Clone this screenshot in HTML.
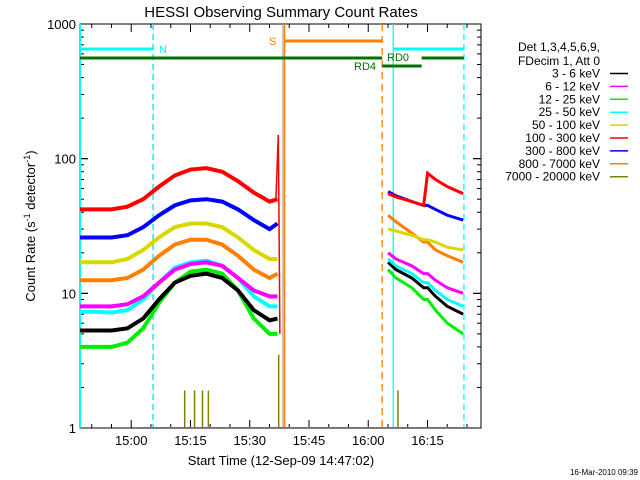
<!DOCTYPE html>
<html><head><meta charset="utf-8"><style>
body{margin:0;background:#fff;}
svg{display:block;font-family:"Liberation Sans",sans-serif;}
</style></head><body>
<svg id="chart" width="640" height="480" viewBox="0 0 640 480" xmlns="http://www.w3.org/2000/svg">
<text x="281" y="17" font-size="15" text-anchor="middle">HESSI Observing Summary Count Rates</text>
<text transform="translate(35,226) rotate(-90)" font-size="13" text-anchor="middle">Count Rate (s<tspan font-size="9" dy="-5">-1</tspan><tspan dy="5"> detector</tspan><tspan font-size="9" dy="-5">-1</tspan><tspan dy="5">)</tspan></text>
<text x="281" y="465" font-size="13" text-anchor="middle">Start Time (12-Sep-09 14:47:02)</text>
<text x="638" y="475" font-size="8" text-anchor="end">16-Mar-2010 09:39</text>
<g id="plot"></g>
<g id="legend"></g>
</svg>
<script>
const NS="http://www.w3.org/2000/svg";
const segTimes1=[0,4,8,12,16,20,24,28,32,36,40,44,48,50];
const segTimes2=[78,80,84,87,88,90,93,97];
const bandNames=["3 - 6 keV","6 - 12 keV","12 - 25 keV","25 - 50 keV","50 - 100 keV","100 - 300 keV","300 - 800 keV","800 - 7000 keV","7000 - 20000 keV"];
const bandColors=["#000000","#ff00ff","#00ee00","#00ffff","#d8d800","#ff0000","#0000ff","#ff8000","#808000"];
const black1=[5.3,5.3,5.3,5.5,6.5,9,12,13.5,14,13,10.5,7.5,6.3,6.5];
const magenta1=[8,8,8,8.3,9.5,12,15,16.5,17,16,13,10.5,9.5,9.5];
const green1=[4,4,4,4.3,5.5,8.5,12,14.5,15,14,10.5,6.5,5,5];
const cyan1=[7.3,7.3,7.2,7.5,9,12,15.5,17,17.5,16,13,9.5,8,8];
const yellow1=[17,17,17,18,21,26,31,33,33,31,26,21,18,18];
const red1=[42,42,42,44,50,62,75,83,85,80,68,56,48,50];
const blue1=[26,26,26,27,31,38,45,49,50,48,42,35,30,33];
const orange1=[12.5,12.5,12.5,13,15,19,23,25,25,23,19,15,13,14];
const black2=[17,15,13,11,11,9.5,8,7];
const magenta2=[20,18,16,14,14,12.5,11,10];
const green2=[15,13,11,9,9,7.5,6,5];
const cyan2=[18,16,14,12,12,10.5,9,8];
const yellow2=[30,29,27,25,25,24,22,21];
const red2=[55,52,48,45,78,70,62,55];
const blue2=[57,53,48,45,45,42,38,35];
const orange2=[38,34,28,24,24,21,19,17];
const spikeTimes=[26.5,29,31,32.5,50.3,80.5];
const spikeValues=[1.9,1.9,1.9,1.9,3.5,1.9];
const xTickLabels=["15:00","15:15","15:30","15:45","16:00","16:15"];
const xTickMinutes=[12.97,27.97,42.97,57.97,72.97,87.97];
const yTickValues=[1,10,100,1000];

const X0=80,X1=481,Y0=428,YT=24,PXM=3.95;
const xs=t=>X0+t*PXM;
const ys=v=>Y0-Math.log10(v)*(Y0-YT)/3;
const plot=document.getElementById('plot');
function el(tag,attrs,parent){const e=document.createElementNS(NS,tag);for(const k in attrs)e.setAttribute(k,attrs[k]);(parent||plot).appendChild(e);return e;}

// axes box
const box=el('rect',{x:X0,y:YT,width:X1-X0,height:Y0-YT,fill:'none',stroke:'#000','stroke-width':1});


// y ticks
for(let d=0;d<3;d++){for(let m=1;m<=10;m++){const v=m*Math.pow(10,d);const y=ys(v);const L=(m===1||m===10)?8:4;
el('line',{x1:X0,x2:X0+L,y1:y,y2:y,stroke:'#000'});el('line',{x1:X1,x2:X1-L,y1:y,y2:y,stroke:'#000'});}}
yTickValues.forEach(v=>{const t=el('text',{x:X0-4,y:ys(v)+5,'font-size':13,'text-anchor':'end'});t.textContent=String(v);

});
// x ticks
for(let m=-15;m<=110;m+=5){const t=xTickMinutes[0]+m;if(t<0||t>101.6)continue;const x=xs(t);const L=((m%15)===0)?8:4;
el('line',{x1:x,x2:x,y1:Y0,y2:Y0-L,stroke:'#000'});el('line',{x1:x,x2:x,y1:YT,y2:YT+L,stroke:'#000'});}
xTickLabels.forEach((s,i)=>{const t=el('text',{x:xs(xTickMinutes[i]),y:Y0+17,'font-size':13,'text-anchor':'middle'});t.textContent=s;

});

// vertical markers
function vline(t,color,dash,name){const l=el('line',{x1:xs(t),x2:xs(t),y1:YT,y2:Y0,stroke:color,'stroke-width':1.3,'stroke-dasharray':dash||'none'});

}
vline(0.1,'#00ffff','', 'night-end-line');
vline(18.5,'#00e0ff','6,4','night-start-dashed');
vline(51.4,'#a0a0a0','','gap-line');
vline(51.6+0.2,'#ff8000','','saa-start-line');
vline(76.5,'#ff8000','7,5','saa-end-dashed');
vline(79.3,'#00ffff','','night-end-line-2');
vline(97.2,'#00ffff','6,4','night-start-dashed-2');

// flag bars
function hbar(t1,t2,y,color,name){const r=el('line',{x1:xs(t1),x2:xs(t2),y1:y,y2:y,stroke:color,'stroke-width':3});

}
hbar(0,18.5,49,'#00ffff','night-flag-bar');
hbar(79.3,97.2,49,'#00ffff','night-flag-bar-2');
hbar(51.8,76.5,41,'#ff8000','saa-flag-bar');
hbar(0,76.5,58,'#007000','rd0-flag-bar');
hbar(86.5,97.2,58,'#007000','rd0-flag-bar-2');
hbar(76.5,86.5,66,'#007000','rd4-flag-bar');
function lab(s,x,y,c,name){const t=el('text',{x:x,y:y,'font-size':11,fill:c});t.textContent=s;

}
lab('N',159,53,'#00ffff','night-label');lab('S',269,45,'#ff8000','saa-label');
lab('RD0',387,61,'#007000','rd0-label');lab('RD4',354,70,'#007000','rd4-label');

// series
const series1=[green1,black1,cyan1,magenta1,orange1,yellow1,blue1,red1];
const series2=[green2,black2,cyan2,magenta2,orange2,yellow2,blue2,red2];
const order=[2,0,3,1,7,4,6,5];
function step(times,vals){let d='';times.forEach((t,i)=>{const x=xs(t),y=ys(vals[i]);if(i===0)d+='M'+x+' '+y;else d+=' L'+x+' '+y;});return d;}
order.forEach((bi,k)=>{
  const p1=el('path',{d:step(segTimes1,series1[k]),fill:'none',stroke:bandColors[bi],'stroke-width':4});
  
  
  const p2=el('path',{d:step(segTimes2,series2[k]),fill:'none',stroke:bandColors[bi],'stroke-width':3});
  
  
});
// flare spike at end of first segment
const sp=el('path',{d:'M'+xs(49.6)+' '+ys(series1[7][13])+' L'+xs(50.2)+' '+ys(150)+' L'+xs(50.4)+' '+ys(30)+' L'+xs(50.6)+' '+ys(5),fill:'none',stroke:'#ff0000','stroke-width':1.5});


// olive spikes
el('line',{x1:xs(15),x2:xs(100),y1:Y0-0.5,y2:Y0-0.5,stroke:'#808000','stroke-width':1});
spikeTimes.forEach((t,i)=>{const l=el('line',{x1:xs(t),x2:xs(t),y1:Y0,y2:ys(spikeValues[i]),stroke:'#808000','stroke-width':1.5});

});

// legend
const lg=document.getElementById('legend');
function lt(s,y){const t=el('text',{x:600,y:y,'font-size':12,'text-anchor':'end'},lg);t.textContent=s;return t;}
const h1=lt('Det 1,3,4,5,6,9,',51);
const h2=lt('FDecim 1, Att 0',65);
bandNames.forEach((n,i)=>{const y=73.5+i*12.9;const t=lt(n,y+4);


el('line',{x1:610,x2:628,y1:y,y2:y,stroke:bandColors[i],'stroke-width':1.5},lg);});
</script>
</body></html>
